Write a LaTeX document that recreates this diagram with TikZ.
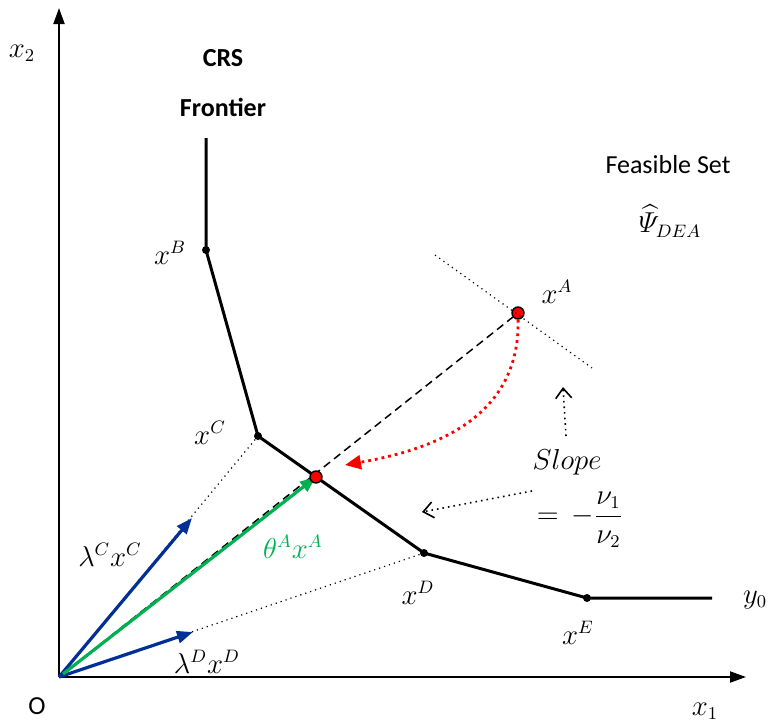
\documentclass[tikz,border=0pt]{standalone}
\usepackage{amsmath}
\usepackage{fontspec}
\setmainfont{Carlito}
\usetikzlibrary{arrows.meta}

\begin{document}
\begin{tikzpicture}[
  x=0.5pt, y=-0.5pt,
  axis/.style={-{Triangle[length=8pt, width=5.5pt]}, line width=1pt},
  frontier/.style={line width=1.5pt},
  vec/.style={-{Triangle[length=8pt, width=6pt]}, line width=1.6pt},
  guide/.style={dotted, line width=0.6pt},
  pointer/.style={-{Straight Barb[length=5pt, width=8pt]}, dotted, line width=0.8pt},
  dot/.style={circle, fill=black, inner sep=0pt, minimum size=4pt},
  reddot/.style={circle, draw=black, fill=red, inner sep=0pt, minimum size=6pt, line width=0.7pt},
  lab/.style={font=\fontsize{13}{15}\selectfont, inner sep=1pt},
  mlab/.style={font=\fontsize{13.5}{16}\selectfont, inner sep=1pt},
]
\definecolor{vecblue}{RGB}{0,48,150}
\definecolor{vecgreen}{RGB}{0,176,80}
\useasboundingbox (0,0) rectangle (771,723);

% axes
\coordinate (O) at (59,677);
\coordinate (Xend) at (746,677);
\coordinate (Yend) at (59,8);
\draw[axis] (O) -- (Xend);
\draw[axis] (O) -- (Yend);
\node[lab] (lblO) at (37,706) {O};
\node[mlab] (lblx1) at (705,711) {$x_1$};
\node[mlab] (lblx2) at (22,53) {$x_2$};

% frontier points
\coordinate (top) at (206,138);
\node[dot] (B) at (206,250) {};
\node[dot] (C) at (258,436) {};
\node[dot] (D) at (424,553) {};
\node[dot] (E) at (587,598) {};
\coordinate (yend) at (712,598);
\coordinate (proj) at (316,477);

% guides to C and D
\draw[guide] (O) -- (C);
\draw[guide] (O) -- (D);

% frontier
\draw[frontier] (top) -- (B.center) -- (C.center) -- (D.center) -- (E.center) -- (yend);

% observed unit and its tangent
\node[reddot] (A) at (518,313) {};
\coordinate (tanL) at (435,255);
\coordinate (tanR) at (592,368);
\draw[guide] (tanL) -- (tanR);
\draw[dashed, dash pattern=on 4pt off 2.5pt, line width=0.75pt] (O) -- (A);

% red radial contraction
\draw[red, dotted, line width=1.4pt, -{Triangle[length=8pt, width=7pt]}]
  (A) .. controls (520,420) and (430,450) .. (345,465);

% vectors
\coordinate (lamC) at (192,518);
\coordinate (lamD) at (193,632);
\draw[vec, vecblue] (O) -- (lamC);
\draw[vec, vecblue] (O) -- (lamD);
\draw[vec, vecgreen] (63,674) -- (proj);
\node[reddot] (theta) at (proj) {};

% slope pointers
\node[mlab] (slope) at (567,462) {$Slope$};
\node[mlab] (ratio) at (580,520) {$=\,-\dfrac{\nu_1}{\nu_2}$};
\coordinate (slopeTip) at (563,387);
\coordinate (ratioTip) at (422,512);
\draw[pointer] (566,436) -- (slopeTip);
\draw[pointer] (532,491) -- (ratioTip);

% labels
\node[lab, font=\fontsize{13}{15}\selectfont\bfseries] (crs) at (223,58) {CRS};
\node[lab, font=\fontsize{13}{15}\selectfont\bfseries] (fr) at (223,107) {Frontier};
\node[lab] (fs) at (668,165) {Feasible Set};
\node[mlab] (psi) at (670,221) {$\widehat{\varPsi}_{DEA}$};
\node[mlab] (lblB) at (170,253) {$x^B$};
\node[mlab] (lblC) at (210,433) {$x^C$};
\node[mlab] (lblD) at (418,593) {$x^D$};
\node[mlab] (lblE) at (578,633) {$x^E$};
\node[mlab] (lblA) at (557,292) {$x^A$};
\node[mlab] (lbly0) at (755,600) {$y_0$};
\node[mlab] (lblLC) at (110,555) {$\lambda^C x^C$};
\node[mlab, text=vecgreen] (lblTA) at (293,547) {$\theta^A x^A$};
\node[mlab] (lblLD) at (207,662) {$\lambda^D x^D$};

\end{tikzpicture}
\end{document}
